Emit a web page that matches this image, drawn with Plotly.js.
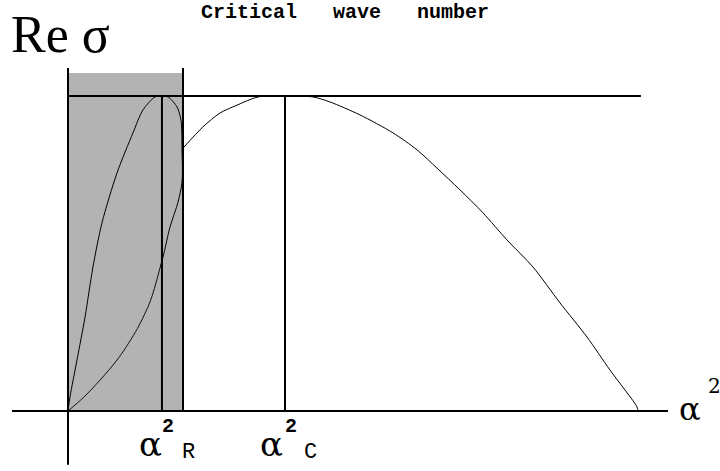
<!DOCTYPE html>
<html>
<head>
<meta charset="utf-8">
<script src="https://cdn.plot.ly/plotly-3.0.1.min.js"></script>
<style>html,body{margin:0;padding:0;background:#fff;}#chart{width:720px;height:471px;}</style>
</head>
<body>
<div id="chart"></div>
<script>
// ---- data (alpha^2 on x, Re sigma on y; max growth normalised to 1, alpha_C^2 = 2) ----
var upperBranchX = [0, 0.018, 0.083, 0.157, 0.230, 0.313, 0.452, 0.599, 0.691, 0.802, 0.857, 0.922, 1.005, 1.041, 1.051, 1.051, 1.014, 0.940, 0.885, 0.848];
var upperBranchY = [0, 0.044, 0.162, 0.298, 0.457, 0.597, 0.756, 0.883, 0.956, 0.997, 1.000, 0.997, 0.965, 0.924, 0.829, 0.727, 0.663, 0.584, 0.502, 0.454];
var lowerBranchX = [0.848, 0.760, 0.640, 0.470, 0.295, 0.140, 0];
var lowerBranchY = [0.454, 0.350, 0.262, 0.170, 0.098, 0.042, 0];
var mainBranchX = [1.069, 1.244, 1.401, 1.558, 1.751, 2.000, 2.258, 2.415, 2.691, 2.995, 3.217, 3.401, 3.613, 3.825, 4.046, 4.286, 4.535, 4.783, 4.995, 5.244, 5.253];
var mainBranchY = [0.838, 0.902, 0.946, 0.971, 0.997, 1.000, 0.997, 0.981, 0.940, 0.883, 0.829, 0.771, 0.702, 0.629, 0.543, 0.457, 0.343, 0.235, 0.130, 0.013, 0];
var alphaR2 = 0.866;      // alpha_R^2
var alphaC2 = 2.0;        // alpha_C^2 (critical wave number)
var bandEnd = 1.06;       // right edge of shaded band
var maxRate = 1.0;        // maximum Re sigma
var maxRateLineEnd = 5.28;
var titleText = "Critical\u00a0\u00a0\u00a0wave\u00a0\u00a0\u00a0number";
var yLabelText = "Re \u03c3";

// ---- layout helpers ----
var W = 720, H = 471;
function px(x){ return x / W; }
function py(y){ return 1 - y / H; }

var lineStyle = {color: '#000', width: 1, shape: 'spline', smoothing: 0.8};
var traces = [
  {x: upperBranchX, y: upperBranchY, mode: 'lines', line: lineStyle, hoverinfo: 'skip'},
  {x: lowerBranchX, y: lowerBranchY, mode: 'lines', line: {color: '#111', width: 1, shape: 'spline', smoothing: 0.8}, hoverinfo: 'skip'},
  {x: mainBranchX, y: mainBranchY, mode: 'lines', line: lineStyle, hoverinfo: 'skip'}
];

var thick = {color: '#000', width: 2};
var shapes = [
  {type: 'rect', xref: 'x', yref: 'y', x0: 0, x1: bandEnd, y0: 0, y1: 1.073, fillcolor: '#b3b3b3', line: {width: 0}, layer: 'below'},
  {type: 'line', xref: 'x', yref: 'y', x0: -0.516, x1: 5.53, y0: 0, y1: 0, line: thick},
  {type: 'line', xref: 'x', yref: 'y', x0: 0, x1: 0, y0: -0.171, y1: 1.089, line: thick},
  {type: 'line', xref: 'x', yref: 'y', x0: bandEnd, x1: bandEnd, y0: 0, y1: 1.089, line: thick},
  {type: 'line', xref: 'x', yref: 'y', x0: 0, x1: maxRateLineEnd, y0: maxRate, y1: maxRate, line: thick},
  {type: 'line', xref: 'x', yref: 'y', x0: alphaR2, x1: alphaR2, y0: 0, y1: maxRate, line: thick},
  {type: 'line', xref: 'x', yref: 'y', x0: alphaC2, x1: alphaC2, y0: 0, y1: maxRate, line: thick}
];

var serif = 'DejaVu Serif';
function ann(text, x, y, size, family, anchor){
  return {text: text, xref: 'paper', yref: 'paper', x: px(x), y: py(y), showarrow: false,
    xanchor: anchor || 'center', yanchor: 'middle', borderpad: 0,
    font: {family: family, size: size, color: '#000'}};
}
var annotations = [
  ann('<b>' + titleText + '</b>', 345, 13, 20, 'Liberation Mono'),
  ann(yLabelText, 10, 35, 52, 'Liberation Serif', 'left'),
  ann('\u03b1', 150, 444, 34, serif),
  ann('<b>2</b>', 168, 426, 20, 'Liberation Mono'),
  ann('R', 188, 452, 22, 'Liberation Mono'),
  ann('\u03b1', 271, 444, 34, serif),
  ann('<b>2</b>', 291, 426, 20, 'Liberation Mono'),
  ann('C', 310, 452, 22, 'Liberation Mono'),
  ann('\u03b1', 690, 409, 32, serif),
  ann('2', 714, 386, 20, serif)
];

var layout = {
  width: W, height: H,
  margin: {l: 0, r: 0, t: 0, b: 0},
  paper_bgcolor: '#fff', plot_bgcolor: '#fff',
  showlegend: false,
  xaxis: {range: [-0.6267, 6.0092], visible: false, fixedrange: true},
  yaxis: {range: [-0.1905, 1.3048], visible: false, fixedrange: true},
  shapes: shapes,
  annotations: annotations
};

Plotly.newPlot('chart', traces, layout, {staticPlot: true, displayModeBar: false});
</script>
</body>
</html>
